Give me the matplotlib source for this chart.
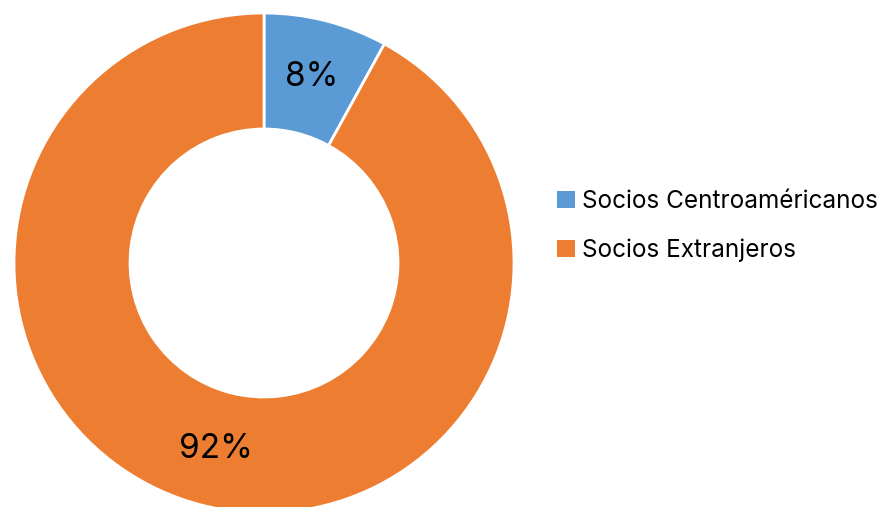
import matplotlib
matplotlib.use("Agg")
import matplotlib.pyplot as plt
from matplotlib.patches import Patch

# data
labels = ['Socios Centroaméricanos', 'Socios Extranjeros']
values = [8, 92]
colors = ['#5B9BD5', '#ED7D31']

plt.rcParams['font.family'] = ['Inter', 'DejaVu Sans']

W, H = 886, 507
fig = plt.figure(figsize=(W / 100, H / 100), dpi=100)

# donut centre at (264, 263) px, outer radius 250 px
cx, cy, r = 264, 263, 250
ax = fig.add_axes([(cx - r) / W, (H - cy - r) / H, 2 * r / W, 2 * r / H])

wedges, texts, autotexts = ax.pie(
    values, colors=colors, radius=1, startangle=90, counterclock=False,
    wedgeprops=dict(width=0.464, edgecolor='white', linewidth=2),
    autopct='%1.0f%%', pctdistance=0.768,
    textprops=dict(fontsize=24, color='black'))
for w in wedges:
    w.set_clip_on(False)
ax.set_xlim(-1, 1)
ax.set_ylim(-1, 1)
ax.axis('off')

handles = [Patch(facecolor=c, edgecolor='none') for c in colors]
fig.legend(handles, labels, loc='center left', bbox_to_anchor=(535 / W, 1 - 226 / H),
           frameon=False, fontsize=17.5, handlelength=0.75, handleheight=0.75,
           handletextpad=0.3, labelspacing=1.05)

fig.savefig('out.png', dpi=100)
